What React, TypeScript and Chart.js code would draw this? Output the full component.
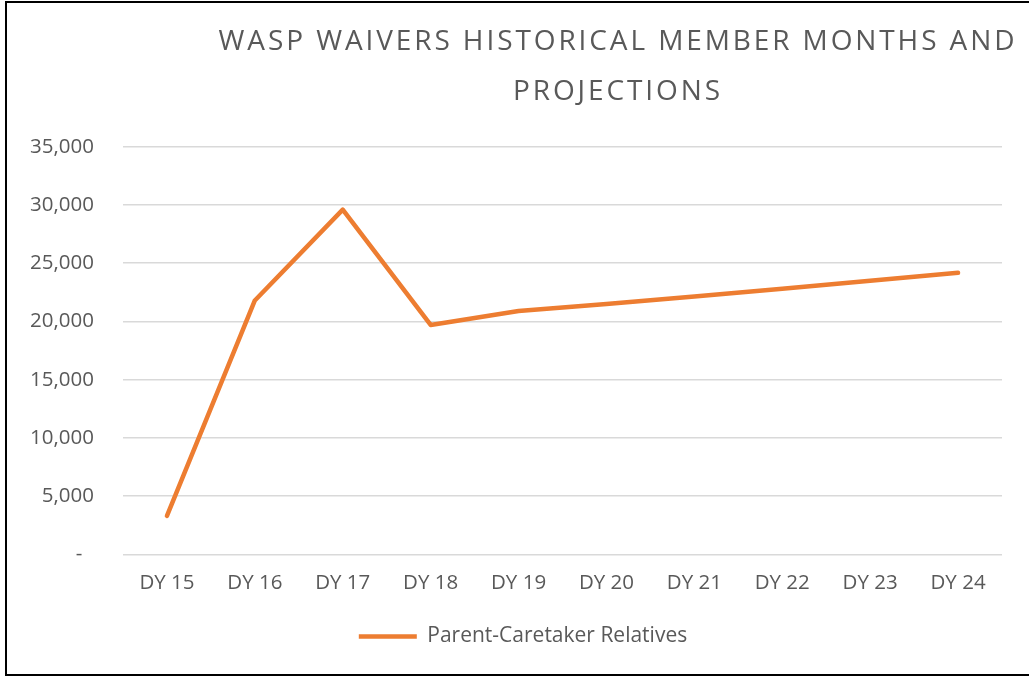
import React, { useEffect, useRef } from "react";
import { Chart, registerables } from "chart.js";

Chart.register(...registerables);

const TITLE_LINES = ["WASP WAIVERS HISTORICAL MEMBER MONTHS AND", "PROJECTIONS"];
const CATEGORIES = ["DY 15", "DY 16", "DY 17", "DY 18", "DY 19", "DY 20", "DY 21", "DY 22", "DY 23", "DY 24"];
const SERIES_NAME = "Parent-Caretaker Relatives";
const SERIES_VALUES = [3300, 21800, 29600, 19700, 20900, 21500, 22150, 22800, 23500, 24170];
const Y_MIN = 0;
const Y_MAX = 35000;
const Y_STEP = 5000;

const TEXT_COLOR = "#595959";
const FONT = '"Open Sans", "Noto Sans", sans-serif';

const titlePlugin = {
  id: "offsetTitle",
  afterDraw(chart: any) {
    const ctx = chart.ctx;
    ctx.save();
    ctx.fillStyle = TEXT_COLOR;
    ctx.font = `28px ${FONT}`;
    try {
      (ctx as any).letterSpacing = "2.9px";
    } catch (e) {}
    ctx.textAlign = "center";
    ctx.textBaseline = "alphabetic";
    const cx = 611;
    ctx.fillText(TITLE_LINES[0], cx, 47);
    ctx.fillText(TITLE_LINES[1], cx, 97);
    ctx.restore();
  },
};

export default function App() {
  const ref = useRef<HTMLCanvasElement | null>(null);

  useEffect(() => {
    document.body.style.margin = "0";
    document.body.style.overflow = "hidden";
    document.documentElement.style.overflow = "hidden";
    if (!ref.current) return;
    const chart = new Chart(ref.current, {
      type: "line",
      data: {
        labels: CATEGORIES,
        datasets: [
          {
            label: SERIES_NAME,
            data: SERIES_VALUES,
            borderColor: "#ED7D31",
            backgroundColor: "#ED7D31",
            borderWidth: 4.5,
            pointRadius: 0,
            pointHoverRadius: 0,
            tension: 0,
            borderJoinStyle: "round",
            borderCapStyle: "round",
            fill: false,
          },
        ],
      },
      plugins: [titlePlugin],
      options: {
        animation: false,
        responsive: false,
        maintainAspectRatio: false,
        layout: { padding: { top: 143.7, left: 10, right: 0, bottom: 17 } },
        plugins: {
          title: { display: false },
          tooltip: { enabled: false },
          legend: {
            display: true,
            position: "bottom",
            labels: {
              usePointStyle: true,
              pointStyle: "line",
              pointStyleWidth: 58,
              padding: 15,
              color: TEXT_COLOR,
              font: { family: FONT, size: 21 },
            },
          },
        },
        scales: {
          x: {
            type: "category",
            offset: true,
            grid: { display: false, drawTicks: false },
            border: { display: false },
            ticks: {
              color: TEXT_COLOR,
              font: { family: FONT, size: 20.5 },
              padding: 16,
              maxRotation: 0,
              autoSkip: false,
            },
          },
          y: {
            type: "linear",
            position: "left",
            min: Y_MIN,
            max: Y_MAX,
            grid: { color: "#D9D9D9", lineWidth: 1.5, drawTicks: false },
            border: { display: false },
            afterFit: (axis: any) => {
              axis.width = 106;
            },
            ticks: {
              stepSize: Y_STEP,
              color: TEXT_COLOR,
              font: { family: FONT, size: 20.5 },
              padding: 29,
              callback: (v: any) => (Number(v) === 0 ? "-\u2007" : Number(v).toLocaleString("en-US")),
            },
          },
          y2: {
            type: "linear",
            position: "right",
            display: true,
            grid: { display: false, drawTicks: false },
            border: { display: false },
            ticks: { display: false },
            afterFit: (axis: any) => {
              axis.width = 27;
            },
          },
        },
      },
    });
    return () => chart.destroy();
  }, []);

  return (
    <div
      style={{
        position: "absolute",
        left: 5,
        top: 1,
        width: 1024,
        height: 671,
        borderLeft: "2px solid #000",
        borderTop: "2px solid #000",
        borderBottom: "2px solid #000",
        overflow: "hidden",
        background: "#fff",
      }}
    >
      <canvas ref={ref} width={1022} height={671} style={{ display: "block", width: 1022, height: 671 }} />
    </div>
  );
}
